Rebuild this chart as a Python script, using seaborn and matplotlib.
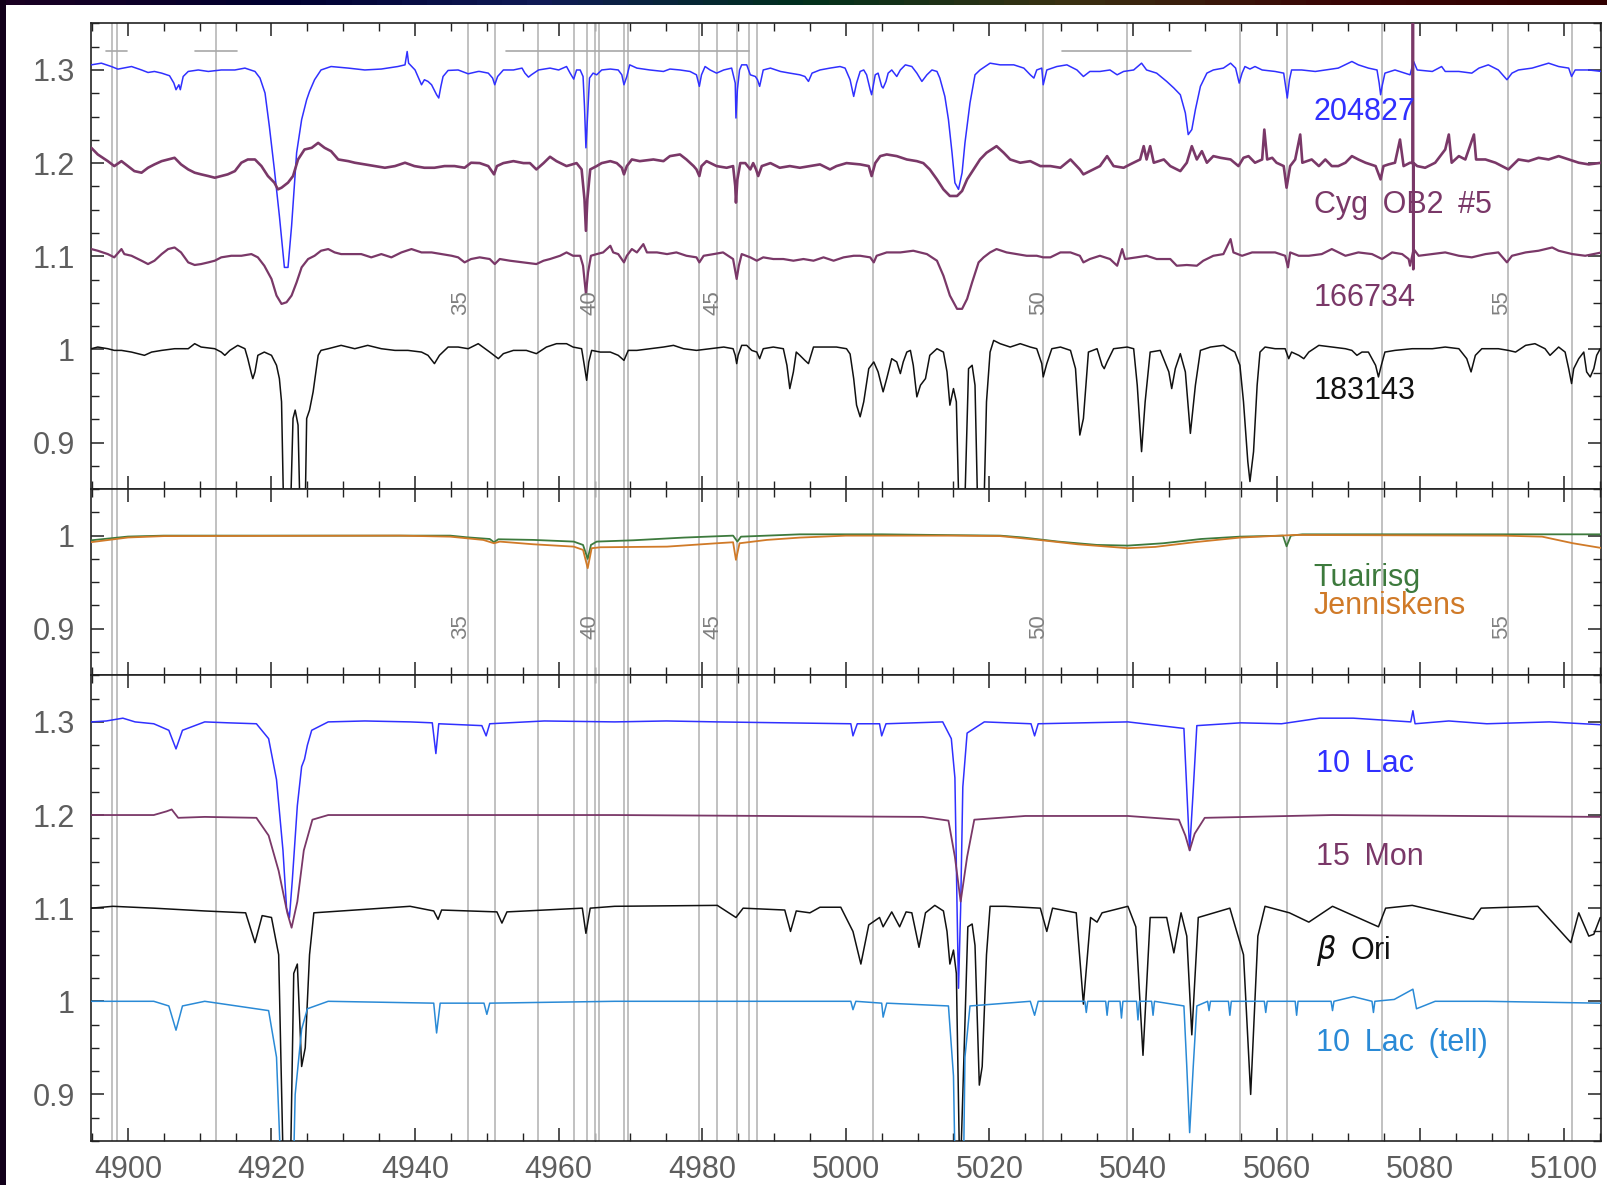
import matplotlib
matplotlib.use("Agg")
import matplotlib.pyplot as plt
import seaborn as sns
import pandas as pd
from matplotlib.ticker import MultipleLocator, FuncFormatter
from matplotlib.colors import LinearSegmentedColormap

sns.set_theme(style="white")
plt.rcParams['font.family'] = ['Liberation Sans', 'DejaVu Sans']
plt.rcParams['mathtext.fontset'] = 'dejavusans'

# ---------------- data (wavelength in Angstrom, flux relative to offset) -------------
XLIM = (4894.9, 5105.2)
X_TICKS = [4900, 4920, 4940, 4960, 4980, 5000, 5020, 5040, 5060, 5080, 5100]

# top panel spectra
S204827 = [(4894.9,.0055),(4896.3,.0073),(4897.7,.0037),(4898.6,.0009),(4900.5,.0037),(4901.9,0),(4902.8,-.0027),
 (4903.7,-.0016),(4904.7,-.0034),(4905.8,-.0062),(4906.4,-.0141),(4906.7,-.0212),(4907.1,-.0159),(4907.3,-.0212),
 (4907.7,-.007),(4908.4,-.0016),(4909.8,0),(4911.2,-.0016),(4913.0,0),(4914.9,0),(4916.3,.002),(4917.7,-.0016),
 (4918.4,-.0087),(4919.1,-.0248),(4919.7,-.0604),(4920.4,-.1068),(4921.1,-.1567),(4921.8,-.212),(4922.3,-.212),
 (4922.8,-.1675),(4923.5,-.089),(4924.2,-.0533),(4924.9,-.0319),(4925.3,-.023),(4926.0,-.0105),(4926.9,0),
 (4928.3,.0037),(4930.7,.002),(4933.0,0),(4935.3,.001),(4937.6,.0037),(4938.6,.0055),(4938.9,.0198),(4939.1,.0073),
 (4940.0,0),(4940.6,-.0105),(4940.9,-.0159),(4941.3,-.0105),(4941.8,-.0123),(4942.3,-.0159),(4943.0,-.0266),
 (4943.3,-.0301),(4943.6,-.0176),(4943.9,-.007),(4944.6,-.0005),(4946.0,0),(4947.4,-.0041),(4948.8,-.0016),
 (4949.0,-.0016),(4950.2,-.0034),(4950.8,-.0087),(4951.1,-.0159),(4951.5,-.007),(4952.3,0),(4953.7,0),(4954.9,.002),
 (4955.3,-.0034),(4955.8,-.0077),(4956.2,-.0052),(4957.2,0),(4958.8,.002),(4960.0,0),(4961.1,.0037),(4961.6,-.0034),
 (4962.1,-.0098),(4962.5,0),(4963.0,0),(4963.4,-.007),(4963.6,-.039),(4963.8,-.0836),(4964.1,-.039),(4964.3,-.0087),
 (4964.8,-.0034),(4965.3,-.0052),(4966.0,0),(4967.2,.001),(4968.3,0),(4968.8,-.0052),(4969.1,-.0159),(4969.5,-.007),
 (4969.9,.0055),(4970.9,.002),(4972.7,0),(4974.6,-.0016),(4975.5,.001),(4976.9,0),(4978.3,-.0016),(4979.2,-.0052),
 (4979.6,-.0176),(4979.9,-.0052),(4980.4,.0037),(4981.1,0),(4982.0,-.0034),(4983.0,0),(4984.1,.002),(4984.6,-.0141),
 (4984.7,-.0516),(4984.9,-.0212),(4985.2,0),(4985.5,.0055),(4986.2,.0055),(4986.7,-.0052),(4987.4,-.007),
 (4987.7,-.0105),(4988.0,-.0176),(4988.5,0),(4989.5,.002),(4990.9,-.0016),(4992.2,-.0034),(4993.6,-.0052),
 (4994.3,-.007),(4994.8,-.0123),(4995.3,-.0034),(4996.4,0),(4997.8,.002),(4999.2,.0037),(4999.9,.002),(5000.6,-.0105),
 (5001.1,-.0284),(5001.5,-.0141),(5002.0,-.0016),(5002.5,0),(5002.9,-.0052),(5003.4,-.0212),(5003.6,-.0266),
 (5004.1,-.0052),(5004.5,-.0034),(5005.0,-.0176),(5005.2,-.0194),(5005.6,-.0123),(5005.9,-.0034),(5006.4,0),
 (5007.1,-.007),(5007.6,0),(5008.3,.0055),(5009.2,.0037),(5009.9,-.0034),(5010.6,-.0123),(5011.3,-.0052),(5012.0,0),
 (5012.7,-.0016),(5013.1,-.0087),(5013.8,-.0284),(5014.3,-.0533),(5014.8,-.089),(5015.2,-.1211),(5015.7,-.1282),
 (5016.2,-.1104),(5016.6,-.0783),(5017.3,-.0355),(5018.0,-.0052),(5018.7,0),(5020.1,.0073),(5021.5,.0055),
 (5023.4,.0055),(5024.8,.002),(5025.7,-.0052),(5026.2,-.0087),(5026.6,0),(5027.3,.002),(5027.5,-.0159),(5028.0,0),
 (5029.4,.0037),(5030.8,.0055),(5032.2,0),(5033.1,-.007),(5034.0,-.0016),(5035.4,-.0016),(5036.8,0),(5037.8,-.0052),
 (5038.7,-.0016),(5040.1,0),(5041.2,.0073),(5041.9,0),(5043.3,-.0034),(5044.7,-.0123),(5045.7,-.0194),(5046.6,-.0266),
 (5047.3,-.0462),(5047.7,-.0694),(5048.2,-.064),(5048.7,-.0426),(5049.4,-.0176),(5050.3,-.0034),(5051.2,0),
 (5052.6,.002),(5053.6,.0073),(5054.3,.002),(5054.8,-.0141),(5055.2,-.0034),(5055.6,.0037),(5056.3,.001),
 (5057.0,.0037),(5058.0,0),(5059.8,-.0016),(5061.0,-.0034),(5061.3,-.0194),(5061.5,-.0301),(5061.8,-.0105),
 (5062.1,0),(5063.5,0),(5065.4,-.0016),(5066.8,0),(5068.6,.002),(5070.5,.0091),(5071.4,.0055),(5072.8,.002),
 (5074.0,0),(5074.3,-.0141),(5074.5,-.0266),(5074.7,-.0176),(5075.1,-.0034),(5076.5,0),(5077.9,-.0034),
 (5078.6,-.0052),(5079.1,.0091),(5079.6,0),(5081.7,-.0016),(5083.0,.0037),(5083.5,-.0016),(5085.4,-.0016),
 (5087.2,-.0034),(5088.2,.002),(5089.5,.0055),(5090.9,0),(5092.1,-.0105),(5092.8,-.0034),(5093.7,0),(5095.6,.002),
 (5097.9,.0073),(5099.3,.0037),(5100.7,.002),(5101.1,-.007),(5101.6,0),(5103.5,0),(5105.3,-.0016)]

CYG_OB2_5 = [(4894.9,.0164),(4895.8,.0093),(4897.2,.0021),(4898.1,-.0032),(4899.1,.0021),(4900.0,-.0032),
 (4900.9,-.0086),(4901.9,-.0103),(4902.8,-.005),(4903.7,-.0014),(4904.7,.0021),(4905.6,.0039),(4906.5,.0057),
 (4907.4,-.0014),(4908.4,-.0068),(4909.3,-.0103),(4910.2,-.0121),(4911.2,-.0139),(4912.1,-.0157),(4913.0,-.0139),
 (4913.9,-.0121),(4914.9,-.0086),(4915.8,.0004),(4916.7,.0039),(4917.7,.0039),(4918.6,-.0032),(4919.5,-.0139),
 (4920.4,-.021),(4920.9,-.0282),(4921.4,-.0264),(4922.3,-.021),(4923.0,-.0139),(4923.7,.0039),(4924.6,.0146),
 (4925.6,.0164),(4926.5,.0217),(4927.4,.0164),(4928.3,.0128),(4929.3,.0039),(4930.7,.0021),(4931.6,.0004),
 (4933.0,-.0014),(4934.4,-.0032),(4935.8,-.005),(4937.2,-.0032),(4938.6,.0004),(4939.9,-.0032),(4941.3,-.005),
 (4942.7,-.005),(4944.1,-.0032),(4945.5,-.0032),(4946.9,-.005),(4947.8,.0004),(4949.0,0),(4950.2,-.0032),
 (4951.0,-.0121),(4951.4,-.0032),(4952.3,0),(4953.7,.0021),(4955.1,0),(4956.0,0),(4956.9,-.0068),(4957.9,0),
 (4958.8,.0068),(4959.7,.0021),(4961.1,-.0032),(4962.5,0),(4963.2,-.0068),(4963.6,-.0389),(4963.8,-.0727),
 (4964.0,-.0389),(4964.4,-.0068),(4965.3,-.0032),(4966.0,0),(4967.2,.0021),(4968.1,0),(4968.8,-.005),(4969.1,-.0121),
 (4969.5,-.0032),(4970.2,.0039),(4971.3,.0021),(4973.2,.0039),(4974.6,.0021),(4975.5,.0075),(4976.9,.0093),
 (4977.8,.0039),(4978.8,-.0032),(4979.2,-.0068),(4979.6,-.0139),(4979.9,-.0032),(4980.6,.0021),(4982.0,-.0032),
 (4983.4,-.005),(4984.3,-.0032),(4984.6,-.0246),(4984.7,-.0424),(4984.9,-.0175),(4985.3,0),(4986.0,0),(4986.7,-.0068),
 (4987.1,0),(4987.5,-.0068),(4987.8,-.0139),(4988.3,-.0032),(4989.5,0),(4990.8,-.005),(4992.2,-.0032),(4993.6,-.005),
 (4995.0,-.0032),(4996.4,-.0014),(4997.8,-.0068),(4998.7,-.0032),(5000.1,0),(5002.0,-.0014),(5003.2,-.0032),
 (5003.6,-.0139),(5004.1,0),(5004.8,.0075),(5005.7,.0093),(5007.1,.0075),(5008.5,.0039),(5009.9,.0021),(5010.8,0),
 (5011.7,-.0068),(5012.7,-.0175),(5013.6,-.0282),(5014.5,-.0353),(5015.5,-.0353),(5016.2,-.0299),(5016.9,-.0175),
 (5017.8,-.0068),(5018.7,.0039),(5019.6,.0111),(5020.3,.0146),(5021.0,.0182),(5022.0,.0111),(5022.9,.0039),
 (5024.3,.0004),(5025.7,.0021),(5027.1,-.0032),(5028.5,-.0032),(5029.9,-.005),(5031.3,.0039),(5032.6,-.0068),
 (5033.1,-.0121),(5034.0,-.0086),(5035.4,-.0032),(5036.4,.0075),(5037.3,-.0032),(5038.7,-.005),(5039.6,-.0014),
 (5041.0,.0039),(5041.5,.0182),(5041.9,.0039),(5042.4,.0182),(5042.9,.0004),(5044.3,.0039),(5045.2,-.0032),
 (5046.6,-.0086),(5047.5,.0004),(5048.2,.0182),(5048.9,.0039),(5049.6,.0128),(5050.3,.0004),(5051.2,.0075),
 (5052.2,.0057),(5053.6,.0039),(5054.7,-.0032),(5055.4,.0057),(5056.1,.0075),(5057.0,.0004),(5058.0,.0039),
 (5058.3,.036),(5058.7,.0039),(5059.4,.0057),(5060.0,.0004),(5061.0,-.0032),(5061.4,-.0264),(5061.9,-.0032),
 (5062.6,.0039),(5063.3,.0307),(5063.6,.0004),(5064.9,.0039),(5065.9,-.0032),(5066.8,.0039),(5067.7,-.0032),
 (5068.6,-.0032),(5069.6,.0004),(5070.5,.0075),(5071.4,.0039),(5072.4,.0004),(5073.8,-.0032),(5074.5,-.0175),
 (5074.9,-.0032),(5075.6,-.0014),(5076.5,.0004),(5077.2,.0253),(5077.7,-.0032),(5078.6,.0004),(5078.95,0),
 (5079.0,.25),(5079.05,-.114),(5079.1,0),(5079.6,-.0032),(5080.7,-.005),(5082.1,.0004),(5083.5,.0146),(5084.0,.0307),
 (5084.4,.0004),(5085.4,.0075),(5086.3,.0039),(5087.5,.0307),(5087.8,.0039),(5089.1,.0039),(5090.5,.0004),
 (5091.4,-.0032),(5092.3,-.0068),(5093.7,.0039),(5095.1,.0021),(5096.5,.0057),(5097.9,.0039),(5099.3,.0075),
 (5100.7,.0039),(5102.1,.0004),(5103.5,-.0014),(5105.3,.0004)]

S166734 = [(4894.9,.0077),(4895.8,.0059),(4897.2,.0023),(4898.1,-.0012),(4899.1,.0077),(4899.5,.0023),(4900.5,.0005),
 (4901.9,-.0048),(4902.8,-.0084),(4903.7,-.0048),(4904.7,.0023),(4905.6,.0077),(4906.5,.0094),(4907.4,.0041),
 (4908.4,-.0066),(4909.3,-.0094),(4910.2,-.0084),(4911.2,-.0066),(4912.1,-.0048),(4913.0,-.0012),(4914.4,.0005),
 (4915.8,.0005),(4917.2,.0023),(4918.1,-.0012),(4919.0,-.0102),(4920.0,-.0244),(4920.7,-.0422),(4921.4,-.0512),
 (4922.1,-.0494),(4922.8,-.0422),(4923.5,-.028),(4924.2,-.0119),(4925.1,-.003),(4926.0,.0005),(4926.9,.0059),
 (4927.9,.0077),(4928.8,.0041),(4929.7,.0023),(4931.1,.0023),(4932.5,.0023),(4933.9,-.0012),(4935.3,.0023),
 (4936.7,-.0012),(4938.1,.0041),(4939.5,.0077),(4940.9,.0041),(4942.3,.0041),(4943.7,.0023),(4945.1,.0005),
 (4946.0,-.0012),(4946.9,-.0066),(4947.8,-.003),(4949.0,-.0012),(4950.4,-.003),(4951.1,-.0084),(4951.8,-.003),
 (4953.2,-.0048),(4955.1,-.0066),(4956.9,-.0084),(4957.9,-.0048),(4958.8,-.003),(4960.2,.0005),(4961.1,.0041),
 (4962.0,.0005),(4963.0,.0005),(4963.4,-.0102),(4963.8,-.0405),(4964.1,-.0173),(4964.5,.0005),(4965.3,.0023),
 (4966.2,.0041),(4967.2,.0112),(4967.6,.0041),(4968.3,.0023),(4969.1,-.0066),(4969.5,.0005),(4970.2,.0077),
 (4970.9,.0041),(4971.8,.013),(4972.3,.0041),(4973.7,.0041),(4975.1,.0023),(4976.4,.0041),(4977.8,.0005),
 (4979.2,-.0012),(4979.6,-.0066),(4980.2,.0005),(4981.6,.0023),(4982.9,.0041),(4984.3,-.003),(4984.8,-.0244),
 (4985.1,-.0102),(4985.5,.0023),(4986.7,-.0012),(4987.6,-.0048),(4988.5,-.0012),(4989.9,-.003),(4991.3,-.003),
 (4992.7,-.0048),(4994.1,-.003),(4995.5,-.0048),(4996.9,-.0012),(4998.3,-.0048),(4999.7,-.0012),(5001.1,.0005),
 (5002.0,.0005),(5003.4,-.0012),(5003.9,-.0066),(5004.3,.0005),(5005.7,.0041),(5007.6,.0041),(5009.4,.0059),
 (5011.3,.0023),(5012.7,-.0048),(5013.6,-.0209),(5014.5,-.0422),(5015.5,-.0565),(5016.2,-.0565),(5016.9,-.0458),
 (5017.6,-.028),(5018.5,-.0066),(5019.2,-.0012),(5020.1,.0041),(5021.0,.0077),(5022.4,.0041),(5023.8,.0023),
 (5025.2,.0005),(5026.6,.0005),(5027.5,-.0012),(5028.5,-.0012),(5029.9,.0041),(5031.3,.0041),(5032.6,.0005),
 (5033.1,-.0066),(5034.0,-.003),(5035.4,.0005),(5036.8,-.003),(5037.8,-.0102),(5038.5,.0077),(5038.9,-.003),
 (5040.5,-.0012),(5041.9,.0005),(5043.3,-.003),(5045.2,-.003),(5046.1,-.0102),(5047.5,-.0094),(5048.9,-.0102),
 (5049.8,-.0048),(5051.2,.0005),(5052.6,.0023),(5053.6,.0184),(5054.0,.0041),(5055.2,.0005),(5056.6,.0041),
 (5058.0,.0041),(5059.8,.0041),(5061.2,.0005),(5061.6,-.0119),(5061.9,.0041),(5063.1,.0005),(5064.5,.0005),
 (5066.3,.0023),(5067.7,.0077),(5069.6,.0005),(5071.4,.0041),(5073.3,.0023),(5074.7,-.003),(5076.1,.0041),
 (5077.5,.0023),(5078.4,-.003),(5078.6,-.0102),(5079.1,.0077),(5079.8,.0005),(5081.7,.0023),(5083.5,.0041),
 (5085.4,.0005),(5087.2,-.0012),(5089.1,.0023),(5090.9,.0041),(5092.1,-.0066),(5092.8,.0005),(5094.7,.0041),
 (5096.5,.0059),(5098.4,.0094),(5099.3,.0059),(5101.2,.0023),(5103.0,.0005),(5105.3,.0041)]

S183143 = [(4894.9,.0007),(4895.8,.0025),(4897.2,.0007),(4898.1,-.0011),(4899.1,-.0011),(4900.5,-.0029),(4901.4,-.0046),
 (4902.3,-.0064),(4903.3,-.0029),(4904.7,-.0011),(4906.5,.0007),(4908.4,.0007),(4909.3,.0061),(4910.2,.0025),
 (4912.1,.0007),(4913.0,-.0029),(4913.5,-.0064),(4914.2,-.0011),(4915.3,.0043),(4916.3,.0007),(4916.7,-.01),
 (4917.2,-.026),(4917.4,-.0314),(4917.7,-.0242),(4918.1,-.0064),(4919.0,-.0029),(4920.0,-.0064),(4920.7,-.0171),
 (4921.1,-.0314),(4921.4,-.0563),(4921.8,-.217),(4922.5,-.217),(4923.0,-.0742),(4923.3,-.0652),(4923.7,-.0813),
 (4924.1,-.217),(4924.6,-.217),(4924.9,-.0742),(4925.3,-.0652),(4925.8,-.0456),(4926.5,-.0064),(4926.9,-.0011),
 (4927.9,.0007),(4929.7,.0043),(4931.6,.0007),(4933.4,.0043),(4935.3,.0007),(4937.2,-.0011),(4939.0,-.0011),
 (4940.9,-.0029),(4941.8,-.0064),(4942.7,-.0153),(4943.4,-.0064),(4944.6,.0025),(4946.0,.0025),(4947.4,.0007),
 (4948.8,.0061),(4950.4,-.0029),(4951.6,-.01),(4952.3,-.0046),(4953.7,-.0011),(4955.5,-.0011),(4956.9,-.0046),
 (4958.3,.0025),(4959.7,.0061),(4961.1,.0061),(4962.0,.0025),(4963.2,.0007),(4963.5,-.0135),(4963.9,-.0332),
 (4964.2,-.0135),(4964.6,-.0011),(4965.8,-.0029),(4967.2,-.0029),(4968.3,-.0064),(4969.1,-.0118),(4969.7,-.0011),
 (4970.9,-.0011),(4972.7,.0007),(4974.6,.0025),(4976.0,.0043),(4977.4,.0007),(4979.2,-.0011),(4981.1,.0007),
 (4983.0,.0025),(4984.3,.0007),(4984.6,-.0064),(4984.8,-.0153),(4985.0,-.0064),(4985.5,.0043),(4986.2,.0043),
 (4986.9,-.0011),(4987.6,-.0029),(4988.0,-.01),(4988.5,.0007),(4989.9,.0025),(4991.3,.0007),(4991.8,-.0171),
 (4992.2,-.0421),(4992.7,-.0242),(4993.1,-.0029),(4993.6,-.0064),(4994.3,-.0118),(4994.8,-.0153),(4995.5,.0025),
 (4996.9,.0025),(4998.7,.0025),(5000.1,.0007),(5000.6,-.005),(5001.1,-.0314),(5001.5,-.0599),(5002.0,-.0724),
 (5002.5,-.0563),(5003.2,-.0207),(5003.9,-.0135),(5004.5,-.0242),(5005.2,-.0456),(5005.7,-.0314),(5006.4,-.01),
 (5007.1,-.0135),(5007.6,-.026),(5008.0,-.0135),(5008.5,-.0029),(5009.0,-.0011),(5009.4,-.0171),(5009.9,-.051),
 (5010.4,-.0385),(5011.1,-.0314),(5011.7,-.0064),(5012.7,.0007),(5013.6,-.0029),(5014.1,-.0242),(5014.5,-.0599),
 (5015.0,-.0421),(5015.4,-.0563),(5015.9,-.217),(5016.4,-.217),(5017.1,-.0207),(5017.6,-.0171),(5018.0,-.0385),
 (5018.5,-.217),(5019.1,-.217),(5019.6,-.0563),(5020.1,-.0029),(5020.6,.0096),(5021.5,.0061),(5022.9,.0025),
 (5024.3,.0061),(5025.7,.0025),(5026.6,.0007),(5027.3,-.0153),(5027.5,-.0296),(5028.0,-.0153),(5028.7,.0007),
 (5029.9,.0025),(5031.3,-.0011),(5032.0,-.0207),(5032.6,-.092),(5033.1,-.0742),(5033.8,-.0029),(5035.0,.0007),
 (5035.7,-.0171),(5036.0,-.0207),(5036.4,-.0135),(5037.3,.0007),(5039.2,.0025),(5040.1,.0007),(5040.6,-.0385),
 (5041.2,-.1098),(5041.7,-.0563),(5042.4,-.0029),(5043.8,-.0011),(5045.0,-.0242),(5045.4,-.0421),(5045.9,-.0207),
 (5046.6,-.0046),(5047.3,-.0242),(5048.0,-.0902),(5048.7,-.0385),(5049.4,-.0011),(5050.8,.0025),(5052.6,.0043),
 (5054.2,-.0029),(5054.9,-.0171),(5055.4,-.0563),(5056.0,-.1205),(5056.3,-.1419),(5056.8,-.1098),(5057.3,-.0385),
 (5057.7,-.0029),(5058.4,.0025),(5059.8,.0007),(5061.2,.0007),(5061.7,-.01),(5062.1,-.0029),(5063.1,-.0064),
 (5063.8,-.01),(5064.5,-.0029),(5065.9,.0043),(5067.7,.0025),(5069.6,.0007),(5070.5,-.0011),(5071.2,-.0064),
 (5071.9,-.0029),(5072.8,-.0029),(5073.8,-.0171),(5074.2,-.0296),(5074.6,-.0171),(5075.1,-.0029),(5076.5,-.0011),
 (5078.9,.0007),(5081.7,.0007),(5083.5,.0025),(5085.4,.0007),(5086.5,-.01),(5087.1,-.0242),(5087.7,-.0064),
 (5088.6,.0007),(5090.9,.0007),(5092.3,-.0011),(5093.3,-.0029),(5094.7,.0043),(5096.0,.0061),(5097.4,.0007),
 (5098.1,-.0064),(5099.3,.0025),(5100.2,-.0029),(5100.7,-.0207),(5101.1,-.0367),(5101.4,-.0207),(5102.1,-.01),
 (5102.8,-.0029),(5103.2,-.0242),(5103.7,-.0296),(5104.2,-.0207),(5104.6,-.0064),(5105.1,.0007)]

# middle panel: telluric models (absolute flux)
TUAIRISG = [(4894.9,.995),(4900,.999),(4905,1.0),(4937.9,1.0),(4944.9,1.0),(4947.2,.9982),(4950.4,.9964),(4951.0,.9929),
 (4951.6,.9961),(4956.5,.9954),(4962.1,.9936),(4963.4,.990),(4964.05,.975),(4964.5,.990),(4965.3,.9936),(4970.4,.995),
 (4977.4,.9979),(4984.3,1.0),(4984.9,.9936),(4985.4,.9989),(4991.3,1.0007),(4993.6,1.0014),(5005,1.0014),(5015,1.0005),
 (5021.5,1.0),(5024.7,.998),(5029.6,.9936),(5035.0,.990),(5039.3,.9893),(5044.2,.9918),(5049.5,.9964),(5054.9,.9989),
 (5060.9,1.0),(5061.4,.9885),(5062.0,1.0),(5063.6,1.0014),(5105.2,1.0014)]
JENNISKENS = [(4894.9,.993),(4900,.998),(4905,.9995),(4937.9,1.0),(4944.9,.9989),(4949.5,.9954),(4951.0,.9918),
 (4951.8,.9936),(4956.5,.9907),(4962.1,.9882),(4963.4,.9847),(4964.05,.9651),(4964.6,.9865),(4965.8,.9875),
 (4975.1,.9882),(4982.0,.9918),(4984.3,.9929),(4984.7,.974),(4985.2,.9918),(4989.0,.9954),(4993.6,.9979),(5000,1.0),
 (5015,1.0),(5021.5,.9995),(5026.9,.9954),(5032.3,.9907),(5039.3,.9865),(5043.1,.9879),(5048.5,.9929),(5054.9,.9979),
 (5062.5,1.0007),(5091.6,1.0),(5097.0,.9989),(5101.3,.9918),(5105.2,.9868)]

# bottom panel spectra
S10LAC = [(4894.9,0),(4897.0,.001),(4899.3,.004),(4901.0,0),(4903.6,-.002),(4905.7,-.009),(4906.7,-.029),(4907.6,-.009),
 (4910.7,0),(4914.0,-.001),(4917.9,-.002),(4919.6,-.018),(4920.7,-.062),(4921.6,-.138),(4922.1,-.2),(4922.5,-.21),
 (4922.9,-.17),(4923.6,-.09),(4924.2,-.048),(4924.6,-.04),(4925.0,-.025),(4925.6,-.009),(4927.9,0),(4933.0,.001),
 (4939.3,0),(4942.4,-.001),(4942.9,-.034),(4943.3,-.002),(4949.3,-.004),(4949.9,-.015),(4950.4,-.002),(4958.0,.001),
 (4967.8,0),(4975.0,.001),(4982.1,0),(5000.7,-.002),(5001.0,-.015),(5001.6,-.002),(5004.7,-.002),(5005.0,-.015),
 (5005.6,-.002),(5013.5,0),(5014.7,-.018),(5015.2,-.06),(5015.5,-.2),(5015.7,-.286),(5016.0,-.2),(5016.3,-.07),
 (5016.9,-.012),(5019.3,0),(5025.8,-.002),(5026.3,-.015),(5026.8,-.002),(5033.0,-.001),(5039.3,0),(5047.1,-.007),
 (5047.5,-.073),(5047.9,-.138),(5048.4,-.073),(5048.9,-.004),(5055.0,-.001),(5060.7,-.002),(5066.0,.004),
 (5070.7,.004),(5078.7,0),(5079.0,.012),(5079.3,-.002),(5084.0,.001),(5089.3,-.002),(5098.0,0),(5105.1,-.003)]
S15MON = [(4894.9,0),(4903.6,0),(4905.4,.004),(4906.1,.006),(4907.0,-.003),(4910.7,-.002),(4917.9,-.003),(4919.6,-.022),
 (4921.0,-.06),(4922.2,-.105),(4922.8,-.121),(4923.6,-.093),(4924.5,-.038),(4925.7,-.005),(4927.9,0),(4967.8,0),
 (5010.7,-.002),(5014.3,-.006),(5015.2,-.045),(5016.0,-.093),(5016.9,-.045),(5017.9,-.005),(5025.0,-.001),(5039.3,-.001),
 (5046.4,-.005),(5047.3,-.022),(5047.9,-.038),(5048.6,-.02),(5050.0,-.003),(5067.8,0),(5105.1,-.002)]
SBETAORI = [(4894.9,0),(4897.9,.002),(4903.6,0),(4910.7,-.003),(4916.4,-.005),(4917.7,-.037),(4918.7,-.008),(4920.0,-.01),
 (4921.0,-.05),(4921.7,-.3),(4922.6,-.3),(4923.1,-.07),(4923.6,-.06),(4924.2,-.17),(4924.7,-.15),(4925.3,-.05),
 (4925.9,-.005),(4939.3,.002),(4942.6,-.003),(4943.2,-.012),(4943.7,-.002),(4951.4,-.004),(4952.1,-.016),(4952.8,-.004),
 (4963.3,0),(4963.8,-.027),(4964.4,0),(4967.8,.002),(4982.1,.003),(4984.7,-.01),(4985.7,0),(4991.5,-.002),(4992.3,-.025),
 (4993.1,-.003),(4995.0,-.005),(4996.4,.001),(4999.3,.001),(5001.0,-.025),(5002.1,-.06),(5003.2,-.018),(5004.7,-.01),
 (5005.2,-.02),(5006.4,-.004),(5007.5,-.02),(5008.4,-.004),(5009.2,-.005),(5010.2,-.042),(5011.1,-.005),(5012.4,.003),
 (5013.6,-.003),(5014.1,-.025),(5014.5,-.06),(5015.0,-.045),(5015.4,-.07),(5015.9,-.3),(5016.3,-.2),(5017.0,-.02),
 (5017.6,-.017),(5018.0,-.04),(5018.6,-.19),(5019.0,-.17),(5019.6,-.05),(5020.1,.002),(5022.2,.002),(5027.1,0),
 (5028.0,-.025),(5028.8,0),(5032.1,-.005),(5033.1,-.103),(5034.1,-.01),(5035.0,-.015),(5035.7,-.005),(5039.3,.002),
 (5040.4,-.02),(5041.4,-.158),(5042.4,-.01),(5044.7,-.01),(5045.7,-.048),(5046.7,-.005),(5047.5,-.03),(5048.2,-.136),
 (5049.1,-.01),(5053.5,0),(5055.4,-.05),(5056.4,-.2),(5057.4,-.03),(5058.4,.002),(5061.8,-.005),(5064.5,-.015),
 (5067.8,.002),(5074.2,-.02),(5075.2,0),(5078.9,.003),(5087.4,-.012),(5088.5,0),(5096.4,.002),(5101.0,-.037),
 (5102.1,-.005),(5103.5,-.03),(5104.2,-.028),(5105.1,-.01)]
S10LAC_TELL = [(4894.9,0),(4903.6,0),(4905.7,-.005),(4906.7,-.031),(4907.6,-.005),(4910.7,0),(4919.6,-.01),(4920.7,-.06),
 (4921.4,-.2),(4922.0,-.3),(4922.7,-.3),(4923.3,-.1),(4924.2,-.03),(4925.0,-.008),(4927.9,0),(4942.6,-.002),
 (4943.0,-.034),(4943.5,-.002),(4949.6,-.002),(4950.0,-.014),(4950.4,-.002),(4967.8,0),(5000.7,0),(5001.0,-.009),
 (5001.4,0),(5005.0,-.002),(5005.2,-.017),(5005.7,-.002),(5014.3,-.005),(5015.0,-.08),(5015.5,-.3),(5016.2,-.3),
 (5016.6,-.06),(5017.3,-.005),(5025.7,0),(5026.3,-.015),(5026.8,0),(5032.1,0),(5033.3,0),(5033.5,-.012),(5033.7,0),
 (5036.2,0),(5036.4,-.015),(5036.6,0),(5038.2,0),(5038.4,-.018),(5038.6,0),(5040.5,0),(5040.7,-.02),(5040.9,0),
 (5042.6,0),(5042.8,-.015),(5043.0,0),(5047.1,-.005),(5047.5,-.07),(5047.9,-.141),(5048.4,-.07),(5048.9,-.005),
 (5050.4,0),(5050.6,-.01),(5050.8,0),(5053.3,0),(5053.5,-.015),(5053.7,0),(5058.3,0),(5058.5,-.012),(5058.7,0),
 (5062.6,0),(5062.8,-.015),(5063.0,0),(5067.6,0),(5067.8,-.01),(5068.0,0),(5070.7,.005),(5073.3,0),(5073.5,-.012),
 (5073.7,0),(5076.4,.002),(5079.0,.013),(5079.5,-.008),(5082.1,0),(5089.3,0),(5105.1,-.002)]

TOP_NAMES = ["204827", "Cyg\u2009 OB2\u2009 #5", "166734", "183143"]
TOP_OFFSETS = [1.3, 1.2, 1.1, 1.0]
BOT_NAMES = ["10\u2009 Lac", "15\u2009 Mon", "$\\beta$\u2009 Ori", "10\u2009 Lac\u2009 (tell)"]
BOT_OFFSETS = [1.3, 1.2, 1.1, 1.0]
MID_NAMES = ["Tuairisg", "Jenniskens"]

GREY_LINES = [4897.77, 4898.52, 4912.22, 4947.38, 4951.13, 4957.08, 4962.19, 4963.91, 4965.07, 4965.67, 4969.15,
              4969.71, 4979.61, 4982.11, 4984.81, 4986.57, 4987.69, 5003.76, 5027.45, 5039.15, 5054.94, 5061.44,
              5074.68, 5092.24, 5101.15]
GREY_SEGMENTS = [(4896.98, 4899.9), (4909.4, 4915.2), (4952.67, 4986.57), (5030.1, 5048.1)]
GREY_SEG_LEVEL = 1.3205
NUM_LABELS = ["35", "40", "45", "50", "55"]
NUM_LABEL_WL = [4946.4, 4964.4, 4981.55, 5026.8, 5091.4]

# ---------------- styling --------------
BLUE = '#3030ff'
MAROON = '#7a3868'
BLACK = '#111111'
LBLUE = '#2a8ad6'
GREEN = '#3d7a3d'
ORANGE = '#d07a28'
GREY = '#bcbcbc'
TXT = '#5e5e5e'

fig = plt.figure(figsize=(16.07, 11.85), dpi=100)
fig.patch.set_facecolor('white')
gs = fig.add_gridspec(3, 1, height_ratios=[5, 2, 5], left=91.3/1607, right=1601/1607,
                      top=1-23.4/1185, bottom=1-1141/1185, hspace=0)
ax_top = fig.add_subplot(gs[0])
ax_mid = fig.add_subplot(gs[1], sharex=ax_top)
ax_bot = fig.add_subplot(gs[2], sharex=ax_top)
axes = [ax_top, ax_mid, ax_bot]


def to_df(pairs, offset=0.0):
    df = pd.DataFrame(pairs, columns=["wl", "d"])
    df["flux"] = df["d"] + offset
    return df


def draw(ax, pairs, offset, color, lw):
    df = to_df(pairs, offset)
    sns.lineplot(data=df, x="wl", y="flux", ax=ax, color=color, lw=lw, sort=False,
                 estimator=None, zorder=3)


for ax in axes:
    for wl in GREY_LINES:
        ax.axvline(wl, color=GREY, lw=1.3, zorder=1)

# top
top_series = [S204827, CYG_OB2_5, S166734, S183143]
top_colors = [BLUE, MAROON, MAROON, BLACK]
top_lw = [1.1, 1.9, 1.6, 1.1]
for s, off, c, lw in zip(top_series, TOP_OFFSETS, top_colors, top_lw):
    draw(ax_top, s, off, c, lw)
for (a, b) in GREY_SEGMENTS:
    ax_top.plot([a, b], [GREY_SEG_LEVEL, GREY_SEG_LEVEL], color='#a8a8a8', lw=1.2, zorder=1)
for name, off, c in zip(TOP_NAMES, TOP_OFFSETS, top_colors):
    ax_top.text(5065.2, off - 0.045, name, color=c, fontsize=22, va='center', ha='left', zorder=4)

# middle
draw(ax_mid, TUAIRISG, 0.0, GREEN, 1.3)
draw(ax_mid, JENNISKENS, 0.0, ORANGE, 1.3)
ax_mid.text(5065.2, 0.9545, MID_NAMES[0], color=GREEN, fontsize=22, va='center', ha='left')
ax_mid.text(5065.2, 0.9245, MID_NAMES[1], color=ORANGE, fontsize=22, va='center', ha='left')

# bottom
bot_series = [S10LAC, S15MON, SBETAORI, S10LAC_TELL]
bot_colors = [BLUE, MAROON, BLACK, LBLUE]
bot_lw = [1.1, 1.3, 1.1, 1.1]
for s, off, c, lw in zip(bot_series, BOT_OFFSETS, bot_colors, bot_lw):
    draw(ax_bot, s, off, c, lw)
for name, off, c in zip(BOT_NAMES, BOT_OFFSETS, bot_colors):
    ax_bot.text(5065.5, off - 0.045, name, color=c, fontsize=22, va='center', ha='left', zorder=4)

# rotated numbers
for lab, wl in zip(NUM_LABELS, NUM_LABEL_WL):
    ax_top.text(wl, 1.0506, lab, rotation=90, color='#808080', fontsize=16, ha='center', va='center')
    ax_mid.text(wl, 0.902, lab, rotation=90, color='#808080', fontsize=16, ha='center', va='center')

fmt = FuncFormatter(lambda v, p: f"{v:g}")
ylims = [(0.85, 1.35), (0.85, 1.05), (0.85, 1.35)]
for ax, yl in zip(axes, ylims):
    ax.set_xlim(*XLIM)
    ax.set_ylim(*yl)
    ax.set_xlabel("")
    ax.set_ylabel("")
    ax.set_facecolor('white')
    ax.xaxis.set_major_locator(MultipleLocator(20))
    ax.xaxis.set_minor_locator(MultipleLocator(5))
    ax.yaxis.set_major_locator(MultipleLocator(0.1))
    ax.yaxis.set_minor_locator(MultipleLocator(0.025))
    ax.yaxis.set_major_formatter(fmt)
    ax.tick_params(which='major', direction='in', top=True, right=True, bottom=True, left=True,
                   length=9.5, width=1.1, color='#222222', labelsize=22, labelcolor=TXT, pad=12)
    ax.tick_params(which='minor', direction='in', top=True, right=True, bottom=True, left=True,
                   length=5.5, width=1.0, color='#222222')
    for sp in ax.spines.values():
        sp.set_color('#222222')
        sp.set_linewidth(1.2)
        sp.set_visible(True)
    ax.grid(False)
ax_top.tick_params(labelbottom=False)
ax_mid.tick_params(labelbottom=False)
ax_bot.set_xticks(X_TICKS)
ax_bot.xaxis.set_major_formatter(FuncFormatter(lambda v, p: f"{v:.0f}"))
ax_bot.tick_params(axis='x', pad=10)

# dark page border (screenshot frame)
cmap = LinearSegmentedColormap.from_list("strip", ["#1a0022", "#000030", "#101a55", "#00301c",
                                                   "#3a3012", "#3a0606", "#300000"])
sax = fig.add_axes([0, 1 - 5/1185, 1, 5/1185])
sax.imshow([list(range(64))], aspect='auto', cmap=cmap)
sax.axis('off')
lax = fig.add_axes([0, 0, 6/1607, 1])
lax.set_facecolor('#12001a')
lax.set_xticks([]); lax.set_yticks([])
for sp in lax.spines.values():
    sp.set_visible(False)

fig.savefig("out.png", dpi=100)
